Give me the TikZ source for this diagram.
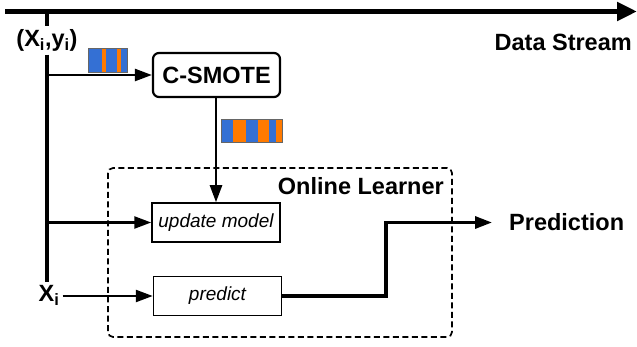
\documentclass[tikz,border=0pt]{standalone}
\usepackage{fontspec}
\setmainfont{Liberation Sans}
\usetikzlibrary{arrows.meta}

\definecolor{barblue}{RGB}{52,112,212}
\definecolor{barorange}{RGB}{255,122,0}

\begin{document}
\begin{tikzpicture}[x=1pt,y=1pt]
\tikzstyle{every node}+=[inner sep=0pt]
\tikzstyle{bigtext}=[font=\fontsize{23.5}{27}\selectfont\bfseries]
\tikzstyle{steptext}=[font=\fontsize{19}{23}\selectfont\itshape]
\tikzstyle{stepbox}=[draw=black, line width=1.5, steptext, minimum width=128, minimum height=39]
\tikzstyle{link}=[draw=black, line width=2.4, -{Triangle[length=17,width=12]}]
\useasboundingbox (0,0) rectangle (637,-347);
% data stream
\coordinate (s0) at (5,-11.5);
\coordinate (s1) at (637,-11.5);
\draw [black, line width=5.5, -{Triangle[length=20,width=18]}] (s0) -- (s1);
\node [bigtext, anchor=east] (ds) at (632,-42) {Data Stream};
% inputs
\node [bigtext, anchor=base, inner sep=3] (xy) at (47,-46.5) {(X\textsubscript{i},y\textsubscript{i})};
\node [bigtext, anchor=base, inner sep=3] (xi) at (49,-301.5) {X\textsubscript{i}};
\coordinate (top) at (47,-11.5);
\draw [black, line width=3.2] (top) -- (xy.north -| top);
\draw [black, line width=3.2] (xy.south -| top) -- (xi.north -| top);
% learner frame
\draw [black, line width=1.7, dashed, dash pattern=on 6 off 3.5, rounded corners=5] (108,-168) rectangle (452,-337);
\node [bigtext, anchor=east] (ol) at (444,-186) {Online Learner};
% boxes
\node [draw=black, line width=2.2, rounded corners=6, bigtext, minimum width=127, minimum height=44] (smote) at (216.5,-75) {C-SMOTE};
\node [stepbox] (upd) at (216,-222.5) {update model};
\node [stepbox] (pred) at (217.5,-296) {predict};
% connectors
\coordinate (b1) at (47,-75);
\coordinate (b2) at (47,-222.5);
\draw [link] (b1) -- (smote);
\draw [link] (smote.south -| upd) -- (upd.north);
\draw [link] (b2) -- (upd);
\draw [link] (xi.east |- pred) -- (pred);
\node [bigtext, anchor=west] (out) at (509,-222.5) {Prediction};
\coordinate (turn) at (386,-296);
\draw [black, line width=3.2, -{Triangle[length=17,width=12]}, shorten >=17] (pred.east) -- (turn) |- (out.west);
% minority / majority bars
\fill [barblue] (88,-48.5) rectangle (127.5,-72.5);
\fill [barorange] (101.7,-48.5) rectangle (106,-72.5);
\fill [barorange] (117.3,-48.5) rectangle (120.7,-72.5);
\draw [black!60, line width=1] (88,-48.5) rectangle (127.5,-72.5);
\fill [barblue] (221,-120) rectangle (282,-143);
\fill [barorange] (233.3,-120) rectangle (245.7,-143);
\fill [barorange] (257.7,-120) rectangle (269.3,-143);
\fill [barorange] (276,-120) rectangle (282,-143);
\draw [black!60, line width=1] (221,-120) rectangle (282,-143);
\end{tikzpicture}
\end{document}
